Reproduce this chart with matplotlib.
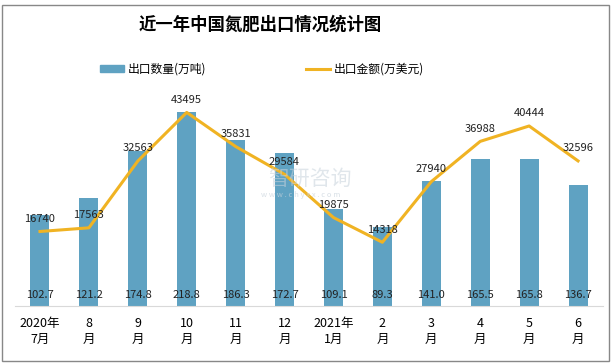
import matplotlib
matplotlib.use("Agg")
import matplotlib.pyplot as plt
from matplotlib.patches import Rectangle
from matplotlib.lines import Line2D

plt.rcParams['font.family'] = ['Noto Sans CJK SC', 'DejaVu Sans']

# data
months = ['2020年\n7月', '8\n月', '9\n月', '10\n月', '11\n月', '12\n月',
          '2021年\n1月', '2\n月', '3\n月', '4\n月', '5\n月', '6\n月']
qty = [102.7, 121.2, 174.8, 218.8, 186.3, 172.7, 109.1, 89.3, 141.0, 165.5, 165.8, 136.7]
amount = [16740, 17563, 32563, 43495, 35831, 29584, 19875, 14318, 27940, 36988, 40444, 32596]

bar_color = '#5fa2c2'
line_color = '#f0b323'

fig = plt.figure(figsize=(6.14, 3.64), dpi=100)
ax = fig.add_axes([15.5 / 614, 58 / 364, 587 / 614, 231 / 364])
ax2 = ax.twinx()

x = list(range(len(months)))
ax.bar(x, qty, width=0.39, color=bar_color, zorder=2)
ax.set_xlim(-0.5, len(months) - 0.5)
ax.set_ylim(0, 260)
ax2.set_ylim(0, 51900)
ax2.plot(x, amount, color=line_color, lw=2.2, zorder=3)

for i, v in enumerate(qty):
    ax.text(i, 12, f'{v:.1f}', ha='center', va='center', fontsize=8, color='#222222', zorder=4)
for i, v in enumerate(amount):
    ax2.text(i, v + 1700, str(v), ha='center', va='bottom', fontsize=8, color='#222222', zorder=4)

for a in (ax, ax2):
    for s in a.spines.values():
        s.set_visible(False)
    a.set_yticks([])
ax.spines['bottom'].set_visible(True)
ax.spines['bottom'].set_color('#d9d9d9')
ax.set_xticks(x)
ax.set_xticklabels(months, fontsize=9, linespacing=1.3)
ax.tick_params(axis='x', length=0, pad=8)

# watermark
fig.text(0.505, 1 - 179 / 364, '智研咨询', fontsize=15, color='#c8d3dc', alpha=0.55, ha='center', va='center')
fig.text(0.49, 1 - 195 / 364, 'w w w . c h y x x . c o m', fontsize=5.5, color='#c8d3dc', alpha=0.7,
         ha='center', va='center')

fig.text(260 / 614, 1 - 25 / 364, '近一年中国氮肥出口情况统计图', fontsize=12.5, fontweight='bold',
         ha='center', va='center')

handles = [Rectangle((0, 0), 1, 1, color=bar_color),
           Line2D([0], [0], color=line_color, lw=2.2)]
fig.legend(handles, ['出口数量(万吨)', '出口金额(万美元)'], loc='center',
           bbox_to_anchor=(262 / 614, 1 - 69 / 364), ncol=2, frameon=False, fontsize=8.5,
           columnspacing=8.5, handlelength=2.0, handleheight=0.5, handletextpad=0.3)

fig.patches.append(Rectangle((2 / 614, 3 / 364), 607 / 614, 356 / 364, transform=fig.transFigure,
                             fill=False, edgecolor='#888888', lw=1))

fig.savefig('out.png', dpi=100)
